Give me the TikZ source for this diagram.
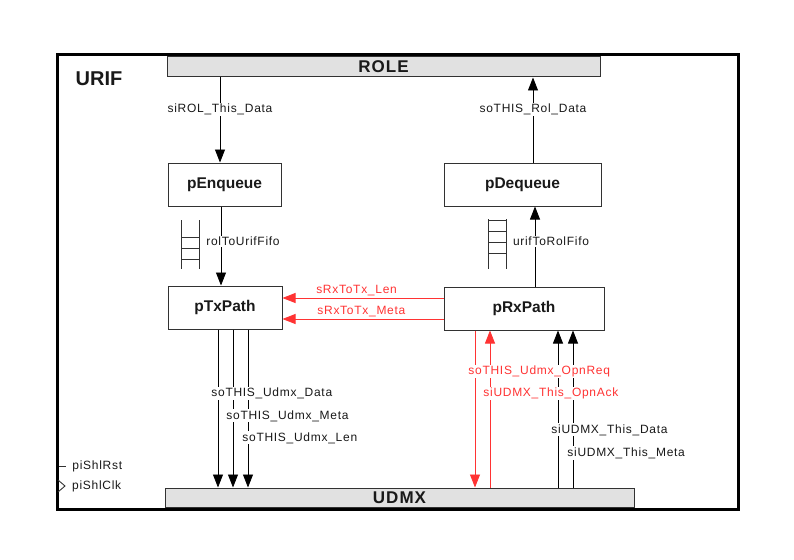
\documentclass[tikz,border=0pt]{standalone}
\usepackage{fontspec}
\setmainfont{Liberation Sans}
\newfontfamily\lblfont[LetterSpace=6]{Liberation Sans}
\newfontfamily\barfont[LetterSpace=6]{Liberation Sans}
\usetikzlibrary{arrows.meta}
\definecolor{lineGray}{RGB}{50,50,50}
\definecolor{barGray}{RGB}{225,225,225}
\definecolor{sigRed}{RGB}{255,51,51}
\definecolor{txtGray}{RGB}{25,25,25}

\begin{document}
\begin{tikzpicture}[x=1pt,y=-1pt,
  blk/.style={draw=lineGray,fill=white,line width=1pt,inner sep=0pt,minimum height=43pt,text=txtGray,font=\fontsize{15.5}{17}\selectfont\bfseries},
  bar/.style={draw=lineGray,fill=barGray,line width=1pt,inner sep=0pt,text=txtGray,font=\barfont\fontsize{17}{19}\selectfont\bfseries},
  sig/.style={line width=0.8pt,-{Triangle[length=13pt,width=10pt]}},
  lbl/.style={fill=white,inner sep=1pt,text=txtGray,font=\lblfont\fontsize{12}{14}\selectfont},
  redlbl/.style={lbl,text=sigRed}]
\useasboundingbox (0,0) rectangle (794,559);
\draw [line width=3pt] (57,55) rectangle (738,509);
\node [font=\fontsize{20}{22}\selectfont\bfseries,text=txtGray] (urif) at (99,79) {URIF};
\node [bar,minimum width=433pt,minimum height=20pt] (role) at (383.5,67) {ROLE};
\node [bar,minimum width=469pt,minimum height=19pt] (udmx) at (399.5,497.5) {UDMX};
\node [blk,minimum width=113pt] (pEnqueue) at (224.5,184.5) {pEnqueue};
\node [blk,minimum width=157pt] (pDequeue) at (522.5,184.5) {pDequeue};
\node [blk,minimum width=114pt] (pTxPath) at (225,307.5) {pTxPath};
\node [blk,minimum width=160pt] (pRxPath) at (524,308.5) {pRxPath};
\draw [sig] (role.south -| 220,0) -- node[lbl,pos=0.38] {siROL\_This\_Data} (pEnqueue.north -| 220,0);
\draw [sig] (pDequeue.north -| 533,0) -- node[lbl,pos=0.62] {soTHIS\_Rol\_Data} (role.south -| 533,0);
\draw [sig] (pEnqueue.south -| 221,0) -- node[lbl,pos=0.44,xshift=22pt] {rolToUrifFifo} (pTxPath.north -| 221,0);
\draw [sig] (pRxPath.north -| 535,0) -- node[lbl,pos=0.56,xshift=16pt] {urifToRolFifo} (pDequeue.south -| 535,0);
\draw [lineGray,line width=1pt] (181,220) -- (181,269) (199,220) -- (199,269);
\foreach \y in {237,248,259} \draw [lineGray,line width=1pt] (181,\y) -- (199,\y);
\draw [lineGray,line width=1pt] (488,219) -- (488,269) (506,219) -- (506,269);
\foreach \y in {220,231,242,253} \draw [lineGray,line width=1pt] (488,\y) -- (506,\y);
\draw [sig,sigRed] (pRxPath.west |- 0,298) -- node[redlbl,fill=none,above=1pt,pos=0.54] {sRxToTx\_Len} (pTxPath.east |- 0,298);
\draw [sig,sigRed] (pRxPath.west |- 0,319) -- node[redlbl,fill=none,above=1pt,pos=0.51] {sRxToTx\_Meta} (pTxPath.east |- 0,319);
\draw [sig] (pTxPath.south -| 248,0) -- node[lbl,anchor=west,xshift=-7pt,pos=0.686] {soTHIS\_Udmx\_Len} (udmx.north -| 248,0);
\draw [sig] (pTxPath.south -| 233,0) -- node[lbl,anchor=west,xshift=-8pt,pos=0.547] {soTHIS\_Udmx\_Meta} (udmx.north -| 233,0);
\draw [sig] (pTxPath.south -| 218,0) -- node[lbl,anchor=west,xshift=-8pt,pos=0.405] {soTHIS\_Udmx\_Data} (udmx.north -| 218,0);
\draw [sig] (udmx.north -| 573,0) -- node[lbl,anchor=west,xshift=-7pt,pos=0.22] {siUDMX\_This\_Meta} (pRxPath.south -| 573,0);
\draw [sig] (udmx.north -| 558,0) -- node[lbl,anchor=west,xshift=-8pt,pos=0.367] {siUDMX\_This\_Data} (pRxPath.south -| 558,0);
\draw [sig,sigRed] (udmx.north -| 490,0) -- node[redlbl,anchor=west,xshift=-8pt,pos=0.60] {siUDMX\_This\_OpnAck} (pRxPath.south -| 490,0);
\draw [sig,sigRed] (pRxPath.south -| 475,0) -- node[redlbl,anchor=west,xshift=-8pt,pos=0.26] {soTHIS\_Udmx\_OpnReq} (udmx.north -| 475,0);
\coordinate (rstPin) at (59,466);
\coordinate (clkPin) at (58,486);
\draw [lineGray,line width=0.9pt] (rstPin) -- ++(7,0) node[lbl,anchor=west,xshift=5pt] (piShlRst) {piShlRst};
\draw [lineGray,line width=0.9pt] (clkPin) ++(0,-6) -- ++(7,6) -- ++(-7,6);
\node [lbl,anchor=west] (piShlClk) at (71,486) {piShlClk};
\end{tikzpicture}
\end{document}
